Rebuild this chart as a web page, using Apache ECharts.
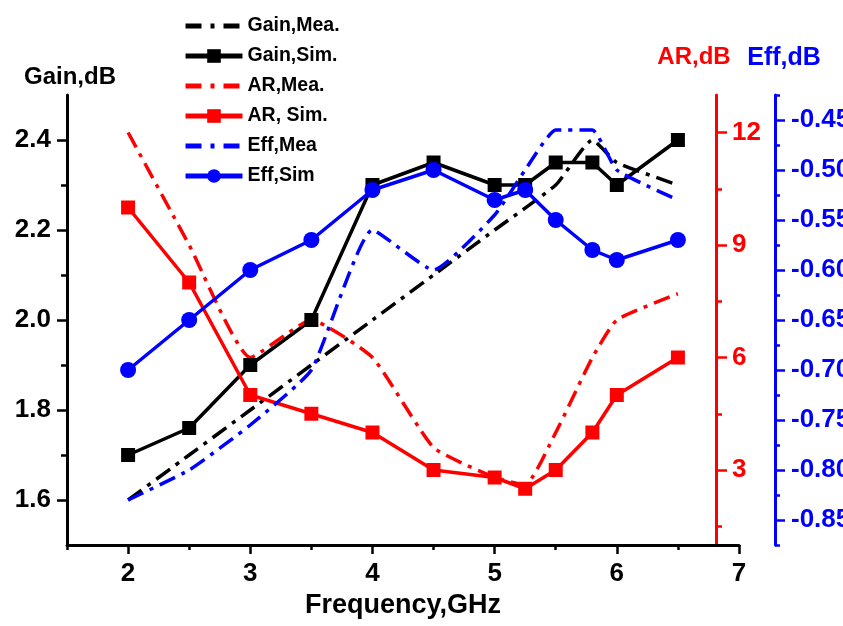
<!DOCTYPE html>
<html>
<head>
<meta charset="utf-8">
<script src="https://cdn.jsdelivr.net/npm/echarts@6/dist/echarts.min.js"></script>
<style>html,body{margin:0;background:#fff}#chart{width:843px;height:626px}</style>
</head>
<body>
<div id="chart"></div>
<script>
// ==================== DATA ====================
const freqSim=[2,2.5,3,3.5,4,4.5,5,5.25,5.5,5.8,6,6.5];
const gainSim=[1.70,1.76,1.90,2.00,2.30,2.35,2.30,2.30,2.35,2.35,2.30,2.40];
const arSim=[10,8,5,4.5,4,3,2.8,2.5,3,4,5,6];
const effSim=[-0.70,-0.65,-0.60,-0.57,-0.52,-0.50,-0.53,-0.52,-0.55,-0.58,-0.59,-0.57];

const freqGainMea=[2,2.5,3,3.5,4,4.5,5,5.5,5.8,6,6.5];
const gainMea=[1.60,1.70,1.80,1.90,2.00,2.10,2.20,2.30,2.40,2.35,2.30];
const freqMea=[2,2.5,3,3.5,4,4.5,5,5.25,5.5,5.8,6,6.5];
const arMea=[12,9,6,7,6,3.6,2.8,2.6,4.0,6.0,7.0,7.7];
const effMea=[-0.83,-0.80,-0.755,-0.70,-0.56,-0.60,-0.545,-0.50,-0.46,-0.46,-0.50,-0.53];

// ticks
const freqTicks=[2,3,4,5,6,7], freqMinor=[1.5,2.5,3.5,4.5,5.5,6.5];
const gainTicks=[1.6,1.8,2.0,2.2,2.4], gainMinor=[1.7,1.9,2.1,2.3];
const arTicks=[3,6,9,12], arMinor=[1.5,4.5,7.5,10.5];
const effTicks=[-0.85,-0.80,-0.75,-0.70,-0.65,-0.60,-0.55,-0.50,-0.45];
const effMinor=[-0.875,-0.825,-0.775,-0.725,-0.675,-0.625,-0.575,-0.525,-0.475,-0.425];

// ==================== CHART ====================
const FONT='"Liberation Sans", Arial, sans-serif';
const BLK='#000', RED='#ff0000', BLU='#0000ff';
const zip=(xs,ys)=>xs.map((x,i)=>[x,ys[i]]);
const dashDot=[17,7,4,7];
const LBL=26, NAME=24;

function yAx(min,max,color,pos,offset,ticks,fmt,len,labels){
  return {type:'value',min,max,position:pos,offset,
    axisLine:{show:labels,lineStyle:{color,width:3}},
    axisTick:{show:true,inside:false,length:len,customValues:ticks,lineStyle:{color,width:2.5}},
    axisLabel:{show:labels,customValues:ticks,color,fontFamily:FONT,fontWeight:'bold',fontSize:LBL,margin:16,formatter:fmt},
    splitLine:{show:false}};
}

const yAxes=[
  yAx(1.5,2.5,BLK,'left',0,gainTicks,v=>v.toFixed(1),10,true),
  yAx(1.5,2.5,BLK,'left',0,gainMinor,null,6,false),
  yAx(1,13,RED,'right',-23,arTicks,v=>String(v),11,true),
  yAx(1,13,RED,'right',-23,arMinor,null,6,false),
  yAx(-0.875,-0.425,BLU,'right',36,effTicks,v=>v.toFixed(2),10,true),
  yAx(-0.875,-0.425,BLU,'right',36,effMinor,null,5,false),
];
yAxes[0].name='Gain,dB';
yAxes[0].nameGap=6;
yAxes[0].nameTextStyle={color:BLK,fontFamily:FONT,fontWeight:'bold',fontSize:NAME,padding:[0,0,0,6]};
yAxes[2].name='AR,dB';
yAxes[2].nameGap=26;
yAxes[2].nameTextStyle={color:RED,fontFamily:FONT,fontWeight:'bold',fontSize:NAME,padding:[0,44,0,0]};
yAxes[4].name='Eff,dB';
yAxes[4].nameGap=24;
yAxes[4].nameTextStyle={color:BLU,fontFamily:FONT,fontWeight:'bold',fontSize:25,padding:[0,0,0,18]};

const xAxes=[
  {type:'value',min:1.5,max:7,position:'bottom',
    name:'Frequency,GHz',nameLocation:'middle',nameGap:45,
    nameTextStyle:{color:BLK,fontFamily:FONT,fontWeight:'bold',fontSize:27},
    axisLine:{onZero:false,lineStyle:{color:BLK,width:3}},
    axisTick:{length:9,customValues:freqTicks,lineStyle:{color:BLK,width:2.5}},
    axisLabel:{customValues:freqTicks,color:BLK,fontFamily:FONT,fontWeight:'bold',fontSize:LBL,margin:16},
    splitLine:{show:false}},
  {type:'value',min:1.5,max:7,position:'bottom',
    axisLine:{show:false,onZero:false},
    axisTick:{length:5,customValues:freqMinor,lineStyle:{color:BLK,width:2.5}},
    axisLabel:{show:false},splitLine:{show:false}},
];

function lineSeries(name,xs,ys,yIdx,color,mea,symbol){
  return {name,type:'line',xAxisIndex:0,yAxisIndex:yIdx,data:zip(xs,ys),
    smooth:mea?0.15:false,
    symbol:mea?'none':symbol,symbolSize:mea?0:(symbol==='circle'?16:14),
    showSymbol:!mea,
    lineStyle:{color,width:3.5,type:mea?dashDot:'solid'},
    itemStyle:{color},
    emphasis:{disabled:true},animation:false};
}

const series=[
  lineSeries('Gain,Mea.',freqGainMea,gainMea,0,BLK,true),
  lineSeries('Gain,Sim.',freqSim,gainSim,0,BLK,false,'rect'),
  lineSeries('AR,Mea.',freqMea,arMea,2,RED,true),
  lineSeries('AR, Sim.',freqSim,arSim,2,RED,false,'rect'),
  lineSeries('Eff,Mea',freqMea,effMea,4,BLU,true),
  lineSeries('Eff,Sim',freqSim,effSim,4,BLU,false,'circle'),
];

// legend entries: measured lines show dash-dot without a marker
const legendData=series.map(s=>s.symbol==='none'
  ? {name:s.name,itemStyle:{opacity:0},lineStyle:{type:[16,9,4,9],width:5}}
  : {name:s.name,lineStyle:{width:5}});

const chart=echarts.init(document.getElementById('chart'));
chart.setOption({
  backgroundColor:'#fff',
  animation:false,
  grid:{left:67,right:104,top:95,bottom:81,containLabel:false,outerBoundsMode:'none'},
  legend:{orient:'vertical',left:178,top:11,itemWidth:57,itemHeight:17,itemGap:10,
    textStyle:{color:BLK,fontFamily:FONT,fontWeight:'bold',fontSize:19.5},
    data:legendData},
  xAxis:xAxes,
  yAxis:yAxes,
  series,
});
</script>
</body>
</html>
